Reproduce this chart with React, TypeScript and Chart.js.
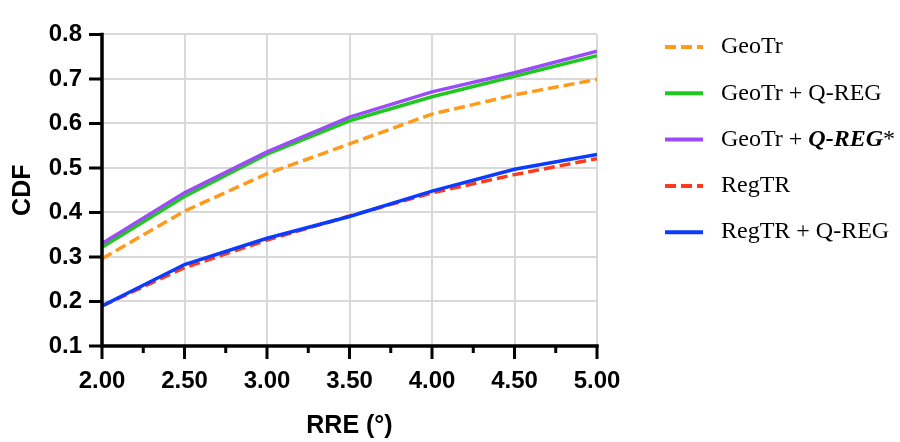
import React, { useEffect, useRef } from "react";
import { Chart, registerables } from "chart.js";

Chart.register(...registerables);

const xValues = [2.0, 2.5, 3.0, 3.5, 4.0, 4.5, 5.0];
const geoTr = [0.296, 0.403, 0.487, 0.554, 0.621, 0.664, 0.699];
const geoTrQReg = [0.322, 0.436, 0.531, 0.606, 0.66, 0.706, 0.752];
const geoTrQRegStar = [0.33, 0.444, 0.536, 0.614, 0.671, 0.714, 0.762];
const regTR = [0.19, 0.276, 0.338, 0.392, 0.444, 0.485, 0.521];
const regTRQReg = [0.19, 0.283, 0.342, 0.391, 0.448, 0.497, 0.53];

const seriesNames = ["GeoTr", "GeoTr + Q-REG", "GeoTr + Q-REG*", "RegTR", "RegTR + Q-REG"];
// rich legend text segments (style: n = normal, bi = bold italic)
const legendSegments: { t: string; s: string }[][] = [
  [{ t: "GeoTr", s: "n" }],
  [{ t: "GeoTr + Q-REG", s: "n" }],
  [{ t: "GeoTr + ", s: "n" }, { t: "Q-REG", s: "bi" }, { t: "*", s: "n" }],
  [{ t: "RegTR", s: "n" }],
  [{ t: "RegTR + Q-REG", s: "n" }],
];
const xTitle = "RRE (°)";
const yTitle = "CDF";

const colors = ["#FF9A1A", "#1EC81E", "#9B4CF7", "#FF3A1A", "#0A3CFF"];
const dashes = [[11, 5], [], [], [11, 5], []];
const allSeries = [geoTr, geoTrQReg, geoTrQRegStar, regTR, regTRQReg];
const drawOrder = [3, 2, 1, 5, 4];

const axisFont = "'Liberation Sans', Arial, sans-serif";
const serifFont = "'Liberation Serif', 'Times New Roman', serif";

const isMajorX = (v: number) => Math.abs(v * 2 - Math.round(v * 2)) < 1e-6;

const axisPlugin = {
  id: "axisDecor",
  afterDraw(chart: any) {
    const { ctx, chartArea, scales } = chart;
    const { left, right, top, bottom } = chartArea;
    const xs = scales.x;
    const ys = scales.y;
    ctx.save();
    ctx.strokeStyle = "#000";
    ctx.lineWidth = 3.5;
    ctx.lineCap = "butt";
    // axis lines
    ctx.beginPath();
    ctx.moveTo(left, top - 1.75);
    ctx.lineTo(left, bottom + 1.75);
    ctx.moveTo(left - 1.75, bottom);
    ctx.lineTo(right + 1.75, bottom);
    ctx.stroke();
    // ticks
    ctx.lineWidth = 3;
    ctx.beginPath();
    xs.ticks.forEach((t: any) => {
      const px = xs.getPixelForValue(t.value);
      const len = isMajorX(t.value) ? 13 : 7;
      ctx.moveTo(px, bottom);
      ctx.lineTo(px, bottom + len);
    });
    ys.ticks.forEach((t: any) => {
      const py = ys.getPixelForValue(t.value);
      ctx.moveTo(left, py);
      ctx.lineTo(left - 13, py);
    });
    ctx.stroke();

    // legend
    const lx0 = 665;
    const lx1 = 703;
    const tx = 721;
    const y0 = 47;
    const step = 46.3;
    chart.data.datasets.forEach((ds: any, i: number) => {
      const y = y0 + i * step;
      ctx.save();
      ctx.strokeStyle = ds.borderColor;
      ctx.lineWidth = 4;
      ctx.setLineDash(ds.borderDash || []);
      ctx.beginPath();
      ctx.moveTo(lx0, y);
      ctx.lineTo(lx1, y);
      ctx.stroke();
      ctx.restore();
      let x = tx;
      ctx.fillStyle = "#000";
      ctx.textBaseline = "middle";
      ctx.textAlign = "left";
      legendSegments[i].forEach((seg) => {
        ctx.font = (seg.s === "bi" ? "italic bold " : "") + "24px " + serifFont;
        ctx.fillText(seg.t, x, y);
        x += ctx.measureText(seg.t).width;
      });
    });
    ctx.restore();
  },
};

export default function App() {
  const ref = useRef<HTMLCanvasElement | null>(null);
  useEffect(() => {
    if (!ref.current) return;
    const chart = new Chart(ref.current, {
      type: "line",
      data: {
        datasets: allSeries.map((vals, i) => ({
          label: seriesNames[i],
          data: xValues.map((x, j) => ({ x, y: vals[j] })),
          borderColor: colors[i],
          backgroundColor: colors[i],
          borderWidth: 3.5,
          borderDash: dashes[i],
          pointRadius: 0,
          tension: 0,
          fill: false,
          order: drawOrder[i],
        })),
      },
      options: {
        animation: false,
        responsive: false,
        layout: { padding: { left: 0, right: 303, top: 16, bottom: 0 } },
        plugins: { legend: { display: false }, tooltip: { enabled: false } },
        scales: {
          x: {
            type: "linear",
            min: 2,
            max: 5,
            afterFit: (s: any) => {
              s.height = 96;
            },
            ticks: {
              stepSize: 0.25,
              padding: 21,
              color: "#000",
              font: { family: axisFont, size: 24, weight: "bold" },
              callback: (v: any) => (isMajorX(Number(v)) ? Number(v).toFixed(2) : ""),
              maxRotation: 0,
              autoSkip: false,
            },
            grid: {
              drawTicks: false,
              lineWidth: 2,
              color: (c: any) => (c.tick && isMajorX(c.tick.value) ? "#d9d9d9" : "rgba(0,0,0,0)"),
            },
            border: { display: false },
            title: {
              display: true,
              text: xTitle,
              color: "#000",
              font: { family: axisFont, size: 25, weight: "bold" },
              padding: { top: 0, bottom: 1 },
            },
          },
          y: {
            min: 0.1,
            max: 0.8,
            afterFit: (s: any) => {
              s.width = 102;
            },
            ticks: {
              stepSize: 0.1,
              padding: 20,
              color: "#000",
              font: { family: axisFont, size: 24, weight: "bold" },
              callback: (v: any) => Number(v).toFixed(1),
            },
            grid: { drawTicks: false, lineWidth: 2, color: "#d9d9d9" },
            border: { display: false },
            title: {
              display: true,
              text: yTitle,
              color: "#000",
              font: { family: axisFont, size: 25, weight: "bold" },
              padding: { top: 8, bottom: 0 },
            },
          },
        },
      },
      plugins: [axisPlugin],
    });
    return () => chart.destroy();
  }, []);
  return (
    <div style={{ position: "fixed", left: 0, top: 0, width: 900, height: 442, background: "#fff" }}>
      <canvas ref={ref} width={900} height={442} style={{ display: "block" }} />
    </div>
  );
}
